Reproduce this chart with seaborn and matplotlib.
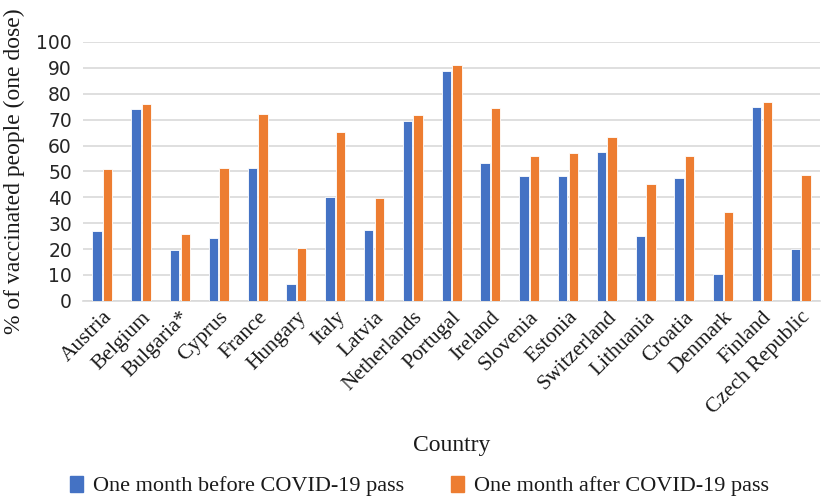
import matplotlib
matplotlib.use("Agg")
import matplotlib.pyplot as plt
import seaborn as sns
import pandas as pd

countries = ["Austria", "Belgium", "Bulgaria*", "Cyprus", "France", "Hungary", "Italy",
             "Latvia", "Netherlands", "Portugal", "Ireland", "Slovenia", "Estonia",
             "Switzerland", "Lithuania", "Croatia", "Denmark", "Finland", "Czech Republic"]
before = [26.9, 74.1, 19.5, 24.2, 51.4, 6.7, 40.1, 27.3, 69.3, 88.9, 53.2, 48.1, 48.1,
          57.5, 24.9, 47.3, 10.3, 74.9, 20.1]
after = [51.0, 76.2, 26.0, 51.5, 72.3, 20.5, 65.3, 39.6, 71.8, 91.0, 74.6, 55.9, 57.0,
         63.4, 45.1, 55.9, 34.4, 76.9, 48.5]
series = ["One month before COVID-19 pass", "One month after COVID-19 pass"]
yticks = [0, 10, 20, 30, 40, 50, 60, 70, 80, 90, 100]

df = pd.DataFrame({
    "Country": countries * 2,
    "value": before + after,
    "series": [series[0]] * len(countries) + [series[1]] * len(countries),
})

sns.set_style("white")
serif = ["Liberation Serif", "DejaVu Serif"]

fig = plt.figure(figsize=(8.32, 4.99), dpi=100)
ax = fig.add_axes([0.0998, 0.397, 0.886, 0.519])

sns.barplot(data=df, x="Country", y="value", hue="series", order=countries,
            hue_order=series, palette=["#4472C4", "#ED7D31"], saturation=1,
            width=0.55, gap=0.12, edgecolor="#ffffff", linewidth=0.6, errorbar=None,
            ax=ax, zorder=3, legend=False)

ax.set_ylim(0, 100)
ax.set_xlim(-0.5, len(countries) - 0.5)
ax.set_yticks(yticks)
ax.set_yticklabels([str(t) for t in yticks], fontfamily="DejaVu Sans", fontsize=13.5,
                   color="#262626")
ax.yaxis.grid(True, color="#d9d9d9", linewidth=1.2, zorder=0)
ax.set_axisbelow(True)
for s in ["top", "right", "left"]:
    ax.spines[s].set_visible(False)
ax.spines["bottom"].set_color("#d9d9d9")
ax.spines["bottom"].set_linewidth(1.2)
ax.tick_params(axis="y", length=0, pad=8)
ax.tick_params(axis="x", length=0, pad=5)

ax.set_xticks(range(len(countries)))
ax.set_xticklabels(countries, rotation=45, ha="right", rotation_mode="anchor",
                   fontfamily=serif, fontsize=15.5, color="#1a1a1a")
ax.set_xlabel("Country", fontfamily=serif, fontsize=17, color="#1a1a1a", labelpad=12)
ax.set_ylabel("% of vaccinated people (one dose)", fontfamily=serif, fontsize=17,
              color="#1a1a1a", labelpad=8)

handles = [plt.Rectangle((0, 0), 1, 1, color=c) for c in ["#4472C4", "#ED7D31"]]
leg = fig.legend(handles, series, loc="center", bbox_to_anchor=(0.504, 0.026), ncol=2,
                 frameon=False, prop={"family": serif, "size": 16}, handlelength=0.6,
                 handleheight=0.75, columnspacing=2.1, handletextpad=0.45,
                 borderpad=0, borderaxespad=0)
for t in leg.get_texts():
    t.set_color("#1a1a1a")

fig.savefig("out.png", dpi=100)
